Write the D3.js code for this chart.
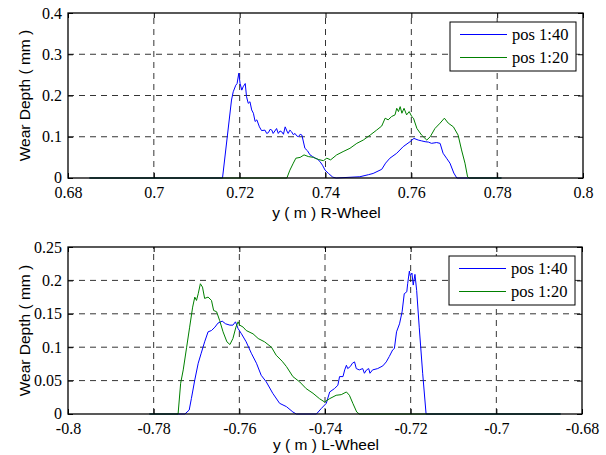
<!DOCTYPE html>
<html>
<head>
<meta charset="utf-8">
<script src="https://cdn.jsdelivr.net/npm/d3@7"></script>
<style>
  body { margin: 0; background: #fff; }
  svg { display: block; }
</style>
</head>
<body>
<svg id="chart" width="606" height="455"></svg>
<script>
// ---------- Data ----------
const seriesNames = ["pos 1:40", "pos 1:20"];
const seriesColors = ["#0000ff", "#008000"];

// R-Wheel panel: [y (m), wear depth (mm)]
const rWheel140 = [
  [0.685,0],[0.7160,0],[0.7181,0.189],[0.7185,0.209],[0.7191,0.225],[0.7194,0.229],[0.7198,0.254],
  [0.7201,0.229],[0.7205,0.213],[0.7208,0.221],[0.7213,0.229],[0.7216,0.197],[0.7220,0.181],
  [0.7224,0.185],[0.7228,0.165],[0.7232,0.157],[0.7236,0.137],[0.7240,0.141],[0.7246,0.124],
  [0.7251,0.115],[0.7259,0.116],[0.7263,0.108],[0.7267,0.110],[0.7271,0.118],[0.7275,0.116],[0.7278,0.108],
  [0.7286,0.120],[0.7290,0.108],[0.7294,0.114],[0.7298,0.112],[0.7302,0.106],[0.7306,0.124],[0.7310,0.114],[0.7313,0.108],
  [0.7317,0.116],[0.7321,0.112],[0.7325,0.105],[0.7329,0.108],[0.7333,0.102],[0.7337,0.100],[0.7341,0.106],[0.7345,0.104],
  [0.7352,0.072],[0.7358,0.066],[0.7364,0.056],[0.7370,0.052],[0.7376,0.048],[0.7381,0.046],[0.7387,0.040],[0.7393,0.031],
  [0.7399,0.019],[0.7407,0.011],[0.7417,0.002],[0.7425,0],[0.7480,0.003],[0.7500,0.008],[0.7511,0.011],
  [0.7531,0.021],[0.7540,0.036],[0.7550,0.048],[0.7566,0.060],[0.7581,0.076],[0.7597,0.088],[0.7606,0.096],
  [0.7616,0.092],[0.7624,0.090],[0.7632,0.088],[0.7640,0.087],[0.7647,0.084],[0.7659,0.086],[0.7667,0.084],
  [0.7674,0.060],[0.7682,0.048],[0.7690,0.036],[0.7699,0.012],[0.7706,0],[0.781,0]
];
const rWheel120 = [
  [0.685,0],[0.7310,0],[0.7317,0.019],[0.7325,0.036],[0.7331,0.048],[0.7341,0.050],[0.7350,0.056],
  [0.7360,0.052],[0.7372,0.050],[0.7383,0.045],[0.7395,0.042],[0.7403,0.048],[0.7412,0.044],
  [0.7426,0.056],[0.7441,0.064],[0.7457,0.072],[0.7473,0.084],[0.7488,0.092],[0.7504,0.104],
  [0.7519,0.116],[0.7531,0.126],[0.7539,0.145],[0.7546,0.141],[0.7554,0.149],[0.7562,0.153],
  [0.7566,0.169],[0.7570,0.161],[0.7574,0.173],[0.7578,0.157],[0.7583,0.169],[0.7589,0.153],
  [0.7595,0.161],[0.7601,0.149],[0.7605,0.145],[0.7613,0.120],[0.7624,0.104],[0.7636,0.092],
  [0.7644,0.100],[0.7655,0.120],[0.7667,0.133],[0.7677,0.145],[0.7686,0.133],[0.7698,0.124],
  [0.7709,0.104],[0.7717,0.068],[0.7725,0.036],[0.7731,0.003],[0.7735,0],[0.781,0]
];

// L-Wheel panel: [y (m), wear depth (mm)]
const lWheel140 = [
  [-0.781,0],[-0.7727,0],[-0.7717,0.006],[-0.7712,0.023],[-0.7704,0.051],[-0.7696,0.076],[-0.7689,0.091],
  [-0.7681,0.108],[-0.7673,0.123],[-0.7665,0.125],[-0.7657,0.130],[-0.7650,0.136],[-0.7640,0.139],
  [-0.7632,0.135],[-0.7622,0.133],[-0.7615,0.133],[-0.7609,0.138],[-0.7603,0.128],[-0.7595,0.120],
  [-0.7584,0.108],[-0.7572,0.091],[-0.7560,0.076],[-0.7549,0.058],[-0.7537,0.048],[-0.7522,0.031],
  [-0.7506,0.016],[-0.7490,0.011],[-0.7475,0.003],[-0.7467,0],[-0.7420,0],[-0.7409,0.008],
  [-0.7397,0.016],[-0.7389,0.033],[-0.7378,0.038],[-0.7370,0.043],[-0.7366,0.056],[-0.7358,0.056],
  [-0.7354,0.066],[-0.7350,0.073],[-0.7347,0.068],[-0.7341,0.071],[-0.7336,0.076],[-0.7331,0.078],
  [-0.7327,0.068],[-0.7320,0.066],[-0.7312,0.068],[-0.7308,0.061],[-0.7303,0.066],[-0.7298,0.068],
  [-0.7295,0.061],[-0.7289,0.066],[-0.7277,0.068],[-0.7265,0.072],[-0.7257,0.078],[-0.7250,0.086],
  [-0.7242,0.096],[-0.7238,0.098],[-0.7233,0.123],[-0.7226,0.135],[-0.7220,0.153],[-0.7215,0.180],
  [-0.7209,0.183],[-0.7207,0.195],[-0.7203,0.214],[-0.7201,0.207],[-0.7197,0.211],[-0.7194,0.193],
  [-0.7190,0.209],[-0.7186,0.185],[-0.7180,0.130],[-0.7172,0.061],[-0.7164,0],[-0.685,0]
];
const lWheel120 = [
  [-0.781,0],[-0.7743,0],[-0.7737,0.046],[-0.7731,0.066],[-0.7723,0.100],[-0.7716,0.130],[-0.7709,0.160],
  [-0.7704,0.175],[-0.7700,0.170],[-0.7696,0.180],[-0.7691,0.195],[-0.7686,0.190],[-0.7681,0.173],
  [-0.7673,0.175],[-0.7665,0.170],[-0.7660,0.155],[-0.7653,0.153],[-0.7646,0.140],[-0.7638,0.123],
  [-0.7629,0.108],[-0.7622,0.104],[-0.7615,0.113],[-0.7608,0.130],[-0.7603,0.138],[-0.7599,0.133],
  [-0.7591,0.130],[-0.7584,0.125],[-0.7568,0.120],[-0.7556,0.113],[-0.7541,0.108],[-0.7525,0.100],
  [-0.7514,0.088],[-0.7500,0.079],[-0.7490,0.071],[-0.7475,0.056],[-0.7459,0.048],[-0.7444,0.038],
  [-0.7428,0.031],[-0.7413,0.023],[-0.7401,0.018],[-0.7389,0.023],[-0.7374,0.028],[-0.7362,0.029],
  [-0.7350,0.033],[-0.7343,0.028],[-0.7335,0.016],[-0.7326,0.003],[-0.7320,0],[-0.685,0]
];

// Axis ticks
const rTicksX = [0.68, 0.7, 0.72, 0.74, 0.76, 0.78, 0.8];
const rTicksY = [0, 0.1, 0.2, 0.3, 0.4];
const lTicksX = [-0.8, -0.78, -0.76, -0.74, -0.72, -0.7, -0.68];
const lTicksY = [0, 0.05, 0.1, 0.15, 0.2, 0.25];

const yLabel = "Wear Depth ( mm )";
const rXLabel = "y ( m ) R-Wheel";
const lXLabel = "y ( m ) L-Wheel";

// ---------- Drawing ----------
const svg = d3.select("#chart");
const SERIF = '"Times New Roman", serif';
const SANS = 'Arial, "Liberation Sans", sans-serif';

function fmt(v) {
  return v === 0 ? "0" : String(+v.toFixed(3));
}

function panel(opt) {
  const { left, top, right, bottom, xDomain, yDomain, xTicks, yTicks, series, xLabel, xLabelY } = opt;
  const x = d3.scaleLinear().domain(xDomain).range([left, right]);
  const y = d3.scaleLinear().domain(yDomain).range([bottom, top]);
  const g = svg.append("g");

  // grid
  const grid = g.append("g").attr("stroke", "#000").attr("stroke-width", 0.8)
    .attr("stroke-dasharray", "6,5").attr("fill", "none");
  xTicks.slice(1, -1).forEach(t => {
    grid.append("line").attr("x1", x(t)).attr("x2", x(t)).attr("y1", bottom).attr("y2", top);
  });
  yTicks.slice(1, -1).forEach(t => {
    grid.append("line").attr("x1", left).attr("x2", right).attr("y1", y(t)).attr("y2", y(t));
  });

  // series
  const line = d3.line().x(d => x(d[0])).y(d => y(d[1]));
  series.forEach((s, i) => {
    g.append("path").datum(s).attr("d", line).attr("fill", "none")
      .attr("stroke", seriesColors[i]).attr("stroke-width", 1);
  });

  // axes (ticks inward, box)
  const tl = 5;
  const axB = d3.axisBottom(x).tickValues(xTicks).tickFormat(fmt).tickSizeInner(-tl).tickSizeOuter(0).tickPadding(9);
  const axT = d3.axisTop(x).tickValues(xTicks).tickFormat("").tickSizeInner(-tl).tickSizeOuter(0);
  const axL = d3.axisLeft(y).tickValues(yTicks).tickFormat(fmt).tickSizeInner(-tl).tickSizeOuter(0).tickPadding(6);
  const axR = d3.axisRight(y).tickValues(yTicks).tickFormat("").tickSizeInner(-tl).tickSizeOuter(0);

  const styleAxis = sel => {
    sel.attr("font-family", null).attr("font-size", null);
    sel.select(".domain").remove();
    sel.selectAll("line").attr("stroke", "#000");
    sel.selectAll("text").style("font-family", SERIF).style("font-size", "16px").attr("fill", "#000");
  };
  g.append("g").attr("transform", `translate(0,${bottom})`).call(axB).call(styleAxis);
  g.append("g").attr("transform", `translate(0,${top})`).call(axT).call(styleAxis);
  const gl = g.append("g").attr("transform", `translate(${left},0)`).call(axL).call(styleAxis);
  // MATLAB draws the "0" label slightly lower
  gl.selectAll(".tick text").filter(d => d === 0).attr("dy", "0.3em");
  g.append("g").attr("transform", `translate(${right},0)`).call(axR).call(styleAxis);

  g.append("rect").attr("x", left).attr("y", top).attr("width", right - left).attr("height", bottom - top)
    .attr("fill", "none").attr("stroke", "#000").attr("stroke-width", 1.3);

  // labels
  g.append("text").style("font-family", SANS).attr("x", (left + right) / 2 + 1).attr("y", xLabelY)
    .attr("text-anchor", "middle").style("font-size", "15.5px").text(xLabel);
  g.append("text").style("font-family", SANS).attr("transform", `translate(${left - 38},${(top + bottom) / 2}) rotate(-90)`)
    .attr("text-anchor", "middle").style("font-size", "15.5px").text(yLabel);

  // legend
  const lw = 126, lh = 49;
  const lx = right - 7 - lw, ly = top + 9;
  const lg = g.append("g").attr("transform", `translate(${lx},${ly})`);
  lg.append("rect").attr("width", lw).attr("height", lh).attr("fill", "#fff")
    .attr("stroke", "#000").attr("stroke-width", 1);
  seriesNames.forEach((n, i) => {
    const yy = 12.5 + i * 23;
    lg.append("line").attr("x1", 10).attr("x2", 57).attr("y1", yy).attr("y2", yy)
      .attr("stroke", seriesColors[i]).attr("stroke-width", 1);
    lg.append("text").style("font-family", SERIF).attr("x", 62).attr("y", yy).attr("dy", "0.35em")
      .style("font-size", "16.5px").text(n);
  });
}

panel({
  left: 68, top: 13, right: 583, bottom: 178,
  xDomain: [0.68, 0.8], yDomain: [0, 0.4],
  xTicks: rTicksX, yTicks: rTicksY,
  series: [rWheel140, rWheel120], xLabel: rXLabel, xLabelY: 218
});
panel({
  left: 68, top: 247, right: 582, bottom: 414,
  xDomain: [-0.8, -0.68], yDomain: [0, 0.25],
  xTicks: lTicksX, yTicks: lTicksY,
  series: [lWheel140, lWheel120], xLabel: lXLabel, xLabelY: 450
});
</script>
</body>
</html>
